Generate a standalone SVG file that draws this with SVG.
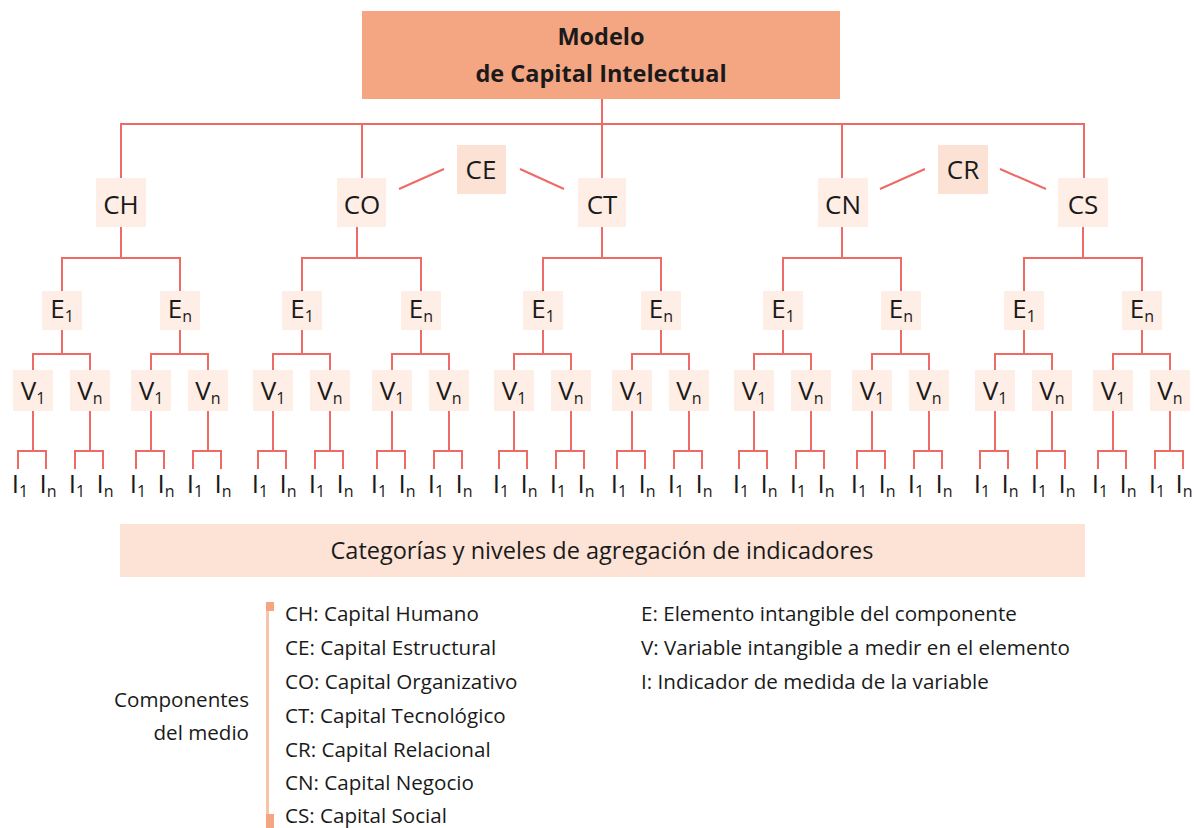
<svg xmlns="http://www.w3.org/2000/svg" width="1194" height="828" viewBox="0 0 1194 828">
<style>
.t{font-family:"Open Sans","Liberation Sans",sans-serif;fill:#1a1a1a}
.lbl{font-family:"Open Sans","Liberation Sans",sans-serif;font-size:26px;fill:#1a1a1a;text-anchor:middle}
.sub{font-size:16px}
.nb{fill:#feeee6}
.nb2{fill:#fce2d4}
.ln{fill:none;stroke:#ee6a64;stroke-width:2}
.lg{font-family:"Open Sans","Liberation Sans",sans-serif;font-size:20.6px;fill:#1a1a1a}
</style>
<rect width="1194" height="828" fill="#ffffff"/>
<g id="connectors" class="ln">
<path d="M602 99V178 M121 178V124H1084V178 M362 124V178 M842 124V178"/>
<path d="M399 189L444 169 M520 169L564 189 M880 189L925 169 M1000 169L1046 189"/>
<path d="M121 227V258 M62 291V258H180V291 M357 227V258 M302 291V258H421V291 M602 227V258 M543 291V258H661V291 M842 227V258 M783 291V258H901V291 M1083 227V258 M1024 291V258H1142V291"/>
<path d="M62 330V354 M33 370V354H90V370 M180 330V354 M151 370V354H208V370 M302 330V354 M273 370V354H330V370 M421 330V354 M392 370V354H449V370 M543 330V354 M514 370V354H571V370 M661 330V354 M632 370V354H689V370 M783 330V354 M754 370V354H811V370 M901 330V354 M872 370V354H929V370 M1024 330V354 M995 370V354H1052V370 M1142 330V354 M1113 370V354H1170V370"/>
<path d="M33 411V451 M18 469V451H46V469 M90 411V451 M75 469V451H103V469 M151 411V451 M136 469V451H164V469 M208 411V451 M193 469V451H221V469 M273 411V451 M258 469V451H286V469 M330 411V451 M315 469V451H343V469 M392 411V451 M377 469V451H405V469 M449 411V451 M434 469V451H462V469 M514 411V451 M499 469V451H527V469 M571 411V451 M556 469V451H584V469 M632 411V451 M617 469V451H645V469 M689 411V451 M674 469V451H702V469 M754 411V451 M739 469V451H767V469 M811 411V451 M796 469V451H824V469 M872 411V451 M857 469V451H885V469 M929 411V451 M914 469V451H942V469 M995 411V451 M980 469V451H1008V469 M1052 411V451 M1037 469V451H1065V469 M1113 411V451 M1098 469V451H1126V469 M1170 411V451 M1155 469V451H1183V469"/>
</g>
<g id="modelo">
<rect x="362" y="11" width="478" height="88" fill="#f4a582"/>
<text class="t" x="601" y="45" font-size="23.5" font-weight="bold" text-anchor="middle">Modelo</text>
<text class="t" x="601" y="82" font-size="23.5" font-weight="bold" text-anchor="middle">de Capital Intelectual</text>
</g>
<g id="ch"><rect class="nb" x="96" y="178" width="50" height="49"/><text class="lbl" x="121" y="214">CH</text></g>
<g id="co"><rect class="nb" x="337" y="178" width="49" height="49"/><text class="lbl" x="362" y="214">CO</text></g>
<g id="ct"><rect class="nb" x="578" y="178" width="48" height="49"/><text class="lbl" x="602" y="214">CT</text></g>
<g id="cn"><rect class="nb" x="818" y="178" width="50" height="49"/><text class="lbl" x="843" y="214">CN</text></g>
<g id="cs"><rect class="nb" x="1058" y="178" width="50" height="49"/><text class="lbl" x="1083" y="214">CS</text></g>
<g id="ce"><rect class="nb2" x="457" y="145" width="49" height="49"/><text class="lbl" x="481" y="179">CE</text></g>
<g id="cr"><rect class="nb2" x="938" y="145" width="50" height="49"/><text class="lbl" x="963" y="179">CR</text></g>
<g id="ch-e1"><rect class="nb" x="42" y="291" width="40" height="39"/><text class="lbl" x="62" y="318">E<tspan class="sub" dy="4">1</tspan></text></g>
<g id="ch-en"><rect class="nb" x="160" y="291" width="40" height="39"/><text class="lbl" x="180" y="318">E<tspan class="sub" dy="4">n</tspan></text></g>
<g id="co-e1"><rect class="nb" x="282" y="291" width="40" height="39"/><text class="lbl" x="302" y="318">E<tspan class="sub" dy="4">1</tspan></text></g>
<g id="co-en"><rect class="nb" x="401" y="291" width="40" height="39"/><text class="lbl" x="421" y="318">E<tspan class="sub" dy="4">n</tspan></text></g>
<g id="ct-e1"><rect class="nb" x="523" y="291" width="40" height="39"/><text class="lbl" x="543" y="318">E<tspan class="sub" dy="4">1</tspan></text></g>
<g id="ct-en"><rect class="nb" x="641" y="291" width="40" height="39"/><text class="lbl" x="661" y="318">E<tspan class="sub" dy="4">n</tspan></text></g>
<g id="cn-e1"><rect class="nb" x="763" y="291" width="40" height="39"/><text class="lbl" x="783" y="318">E<tspan class="sub" dy="4">1</tspan></text></g>
<g id="cn-en"><rect class="nb" x="881" y="291" width="40" height="39"/><text class="lbl" x="901" y="318">E<tspan class="sub" dy="4">n</tspan></text></g>
<g id="cs-e1"><rect class="nb" x="1004" y="291" width="40" height="39"/><text class="lbl" x="1024" y="318">E<tspan class="sub" dy="4">1</tspan></text></g>
<g id="cs-en"><rect class="nb" x="1122" y="291" width="40" height="39"/><text class="lbl" x="1142" y="318">E<tspan class="sub" dy="4">n</tspan></text></g>
<g id="ch-e1-v1"><rect class="nb" x="13" y="370" width="40" height="41"/><text class="lbl" x="33" y="400">V<tspan class="sub" dy="4">1</tspan></text></g>
<g id="ch-e1-vn"><rect class="nb" x="70" y="370" width="40" height="41"/><text class="lbl" x="90" y="400">V<tspan class="sub" dy="4">n</tspan></text></g>
<g id="ch-en-v1"><rect class="nb" x="131" y="370" width="40" height="41"/><text class="lbl" x="151" y="400">V<tspan class="sub" dy="4">1</tspan></text></g>
<g id="ch-en-vn"><rect class="nb" x="188" y="370" width="40" height="41"/><text class="lbl" x="208" y="400">V<tspan class="sub" dy="4">n</tspan></text></g>
<g id="co-e1-v1"><rect class="nb" x="253" y="370" width="40" height="41"/><text class="lbl" x="273" y="400">V<tspan class="sub" dy="4">1</tspan></text></g>
<g id="co-e1-vn"><rect class="nb" x="310" y="370" width="40" height="41"/><text class="lbl" x="330" y="400">V<tspan class="sub" dy="4">n</tspan></text></g>
<g id="co-en-v1"><rect class="nb" x="372" y="370" width="40" height="41"/><text class="lbl" x="392" y="400">V<tspan class="sub" dy="4">1</tspan></text></g>
<g id="co-en-vn"><rect class="nb" x="429" y="370" width="40" height="41"/><text class="lbl" x="449" y="400">V<tspan class="sub" dy="4">n</tspan></text></g>
<g id="ct-e1-v1"><rect class="nb" x="494" y="370" width="40" height="41"/><text class="lbl" x="514" y="400">V<tspan class="sub" dy="4">1</tspan></text></g>
<g id="ct-e1-vn"><rect class="nb" x="551" y="370" width="40" height="41"/><text class="lbl" x="571" y="400">V<tspan class="sub" dy="4">n</tspan></text></g>
<g id="ct-en-v1"><rect class="nb" x="612" y="370" width="40" height="41"/><text class="lbl" x="632" y="400">V<tspan class="sub" dy="4">1</tspan></text></g>
<g id="ct-en-vn"><rect class="nb" x="669" y="370" width="40" height="41"/><text class="lbl" x="689" y="400">V<tspan class="sub" dy="4">n</tspan></text></g>
<g id="cn-e1-v1"><rect class="nb" x="734" y="370" width="40" height="41"/><text class="lbl" x="754" y="400">V<tspan class="sub" dy="4">1</tspan></text></g>
<g id="cn-e1-vn"><rect class="nb" x="791" y="370" width="40" height="41"/><text class="lbl" x="811" y="400">V<tspan class="sub" dy="4">n</tspan></text></g>
<g id="cn-en-v1"><rect class="nb" x="852" y="370" width="40" height="41"/><text class="lbl" x="872" y="400">V<tspan class="sub" dy="4">1</tspan></text></g>
<g id="cn-en-vn"><rect class="nb" x="909" y="370" width="40" height="41"/><text class="lbl" x="929" y="400">V<tspan class="sub" dy="4">n</tspan></text></g>
<g id="cs-e1-v1"><rect class="nb" x="975" y="370" width="40" height="41"/><text class="lbl" x="995" y="400">V<tspan class="sub" dy="4">1</tspan></text></g>
<g id="cs-e1-vn"><rect class="nb" x="1032" y="370" width="40" height="41"/><text class="lbl" x="1052" y="400">V<tspan class="sub" dy="4">n</tspan></text></g>
<g id="cs-en-v1"><rect class="nb" x="1093" y="370" width="40" height="41"/><text class="lbl" x="1113" y="400">V<tspan class="sub" dy="4">1</tspan></text></g>
<g id="cs-en-vn"><rect class="nb" x="1150" y="370" width="40" height="41"/><text class="lbl" x="1170" y="400">V<tspan class="sub" dy="4">n</tspan></text></g>
<g id="indicators">
<g id="i-01"><text class="lbl" x="20" y="493">I<tspan class="sub" dy="4">1</tspan></text></g>
<g id="i-02"><text class="lbl" x="48" y="493">I<tspan class="sub" dy="4">n</tspan></text></g>
<g id="i-03"><text class="lbl" x="77" y="493">I<tspan class="sub" dy="4">1</tspan></text></g>
<g id="i-04"><text class="lbl" x="105" y="493">I<tspan class="sub" dy="4">n</tspan></text></g>
<g id="i-05"><text class="lbl" x="138" y="493">I<tspan class="sub" dy="4">1</tspan></text></g>
<g id="i-06"><text class="lbl" x="166" y="493">I<tspan class="sub" dy="4">n</tspan></text></g>
<g id="i-07"><text class="lbl" x="195" y="493">I<tspan class="sub" dy="4">1</tspan></text></g>
<g id="i-08"><text class="lbl" x="223" y="493">I<tspan class="sub" dy="4">n</tspan></text></g>
<g id="i-09"><text class="lbl" x="260" y="493">I<tspan class="sub" dy="4">1</tspan></text></g>
<g id="i-10"><text class="lbl" x="288" y="493">I<tspan class="sub" dy="4">n</tspan></text></g>
<g id="i-11"><text class="lbl" x="317" y="493">I<tspan class="sub" dy="4">1</tspan></text></g>
<g id="i-12"><text class="lbl" x="345" y="493">I<tspan class="sub" dy="4">n</tspan></text></g>
<g id="i-13"><text class="lbl" x="379" y="493">I<tspan class="sub" dy="4">1</tspan></text></g>
<g id="i-14"><text class="lbl" x="407" y="493">I<tspan class="sub" dy="4">n</tspan></text></g>
<g id="i-15"><text class="lbl" x="436" y="493">I<tspan class="sub" dy="4">1</tspan></text></g>
<g id="i-16"><text class="lbl" x="464" y="493">I<tspan class="sub" dy="4">n</tspan></text></g>
<g id="i-17"><text class="lbl" x="501" y="493">I<tspan class="sub" dy="4">1</tspan></text></g>
<g id="i-18"><text class="lbl" x="529" y="493">I<tspan class="sub" dy="4">n</tspan></text></g>
<g id="i-19"><text class="lbl" x="558" y="493">I<tspan class="sub" dy="4">1</tspan></text></g>
<g id="i-20"><text class="lbl" x="586" y="493">I<tspan class="sub" dy="4">n</tspan></text></g>
<g id="i-21"><text class="lbl" x="619" y="493">I<tspan class="sub" dy="4">1</tspan></text></g>
<g id="i-22"><text class="lbl" x="647" y="493">I<tspan class="sub" dy="4">n</tspan></text></g>
<g id="i-23"><text class="lbl" x="676" y="493">I<tspan class="sub" dy="4">1</tspan></text></g>
<g id="i-24"><text class="lbl" x="704" y="493">I<tspan class="sub" dy="4">n</tspan></text></g>
<g id="i-25"><text class="lbl" x="741" y="493">I<tspan class="sub" dy="4">1</tspan></text></g>
<g id="i-26"><text class="lbl" x="769" y="493">I<tspan class="sub" dy="4">n</tspan></text></g>
<g id="i-27"><text class="lbl" x="798" y="493">I<tspan class="sub" dy="4">1</tspan></text></g>
<g id="i-28"><text class="lbl" x="826" y="493">I<tspan class="sub" dy="4">n</tspan></text></g>
<g id="i-29"><text class="lbl" x="859" y="493">I<tspan class="sub" dy="4">1</tspan></text></g>
<g id="i-30"><text class="lbl" x="887" y="493">I<tspan class="sub" dy="4">n</tspan></text></g>
<g id="i-31"><text class="lbl" x="916" y="493">I<tspan class="sub" dy="4">1</tspan></text></g>
<g id="i-32"><text class="lbl" x="944" y="493">I<tspan class="sub" dy="4">n</tspan></text></g>
<g id="i-33"><text class="lbl" x="982" y="493">I<tspan class="sub" dy="4">1</tspan></text></g>
<g id="i-34"><text class="lbl" x="1010" y="493">I<tspan class="sub" dy="4">n</tspan></text></g>
<g id="i-35"><text class="lbl" x="1039" y="493">I<tspan class="sub" dy="4">1</tspan></text></g>
<g id="i-36"><text class="lbl" x="1067" y="493">I<tspan class="sub" dy="4">n</tspan></text></g>
<g id="i-37"><text class="lbl" x="1100" y="493">I<tspan class="sub" dy="4">1</tspan></text></g>
<g id="i-38"><text class="lbl" x="1128" y="493">I<tspan class="sub" dy="4">n</tspan></text></g>
<g id="i-39"><text class="lbl" x="1157" y="493">I<tspan class="sub" dy="4">1</tspan></text></g>
<g id="i-40"><text class="lbl" x="1184" y="493">I<tspan class="sub" dy="4">n</tspan></text></g>
</g>
<g id="band">
<rect x="120" y="524" width="965" height="53" fill="#fde3d6"/>
<text class="t" x="602" y="559" font-size="23.5" text-anchor="middle">Categorías y niveles de agregación de indicadores</text>
</g>
<g id="legend">
<text class="lg" x="249" y="707" text-anchor="end">Componentes</text>
<text class="lg" x="249" y="740" text-anchor="end">del medio</text>
<rect x="266" y="602" width="3" height="226" fill="#f8c2ab"/>
<rect x="266" y="602" width="8" height="9" fill="#f4a582"/>
<rect x="266" y="814" width="8" height="14" fill="#f4a582"/>
<text class="lg" x="285" y="621">CH: Capital Humano</text>
<text class="lg" x="285" y="655">CE: Capital Estructural</text>
<text class="lg" x="285" y="689">CO: Capital Organizativo</text>
<text class="lg" x="285" y="723">CT: Capital Tecnológico</text>
<text class="lg" x="285" y="757">CR: Capital Relacional</text>
<text class="lg" x="285" y="790">CN: Capital Negocio</text>
<text class="lg" x="285" y="823">CS: Capital Social</text>
<text class="lg" x="641" y="621">E: Elemento intangible del componente</text>
<text class="lg" x="641" y="655">V: Variable intangible a medir en el elemento</text>
<text class="lg" x="641" y="689">I: Indicador de medida de la variable</text>
</g>
</svg>
